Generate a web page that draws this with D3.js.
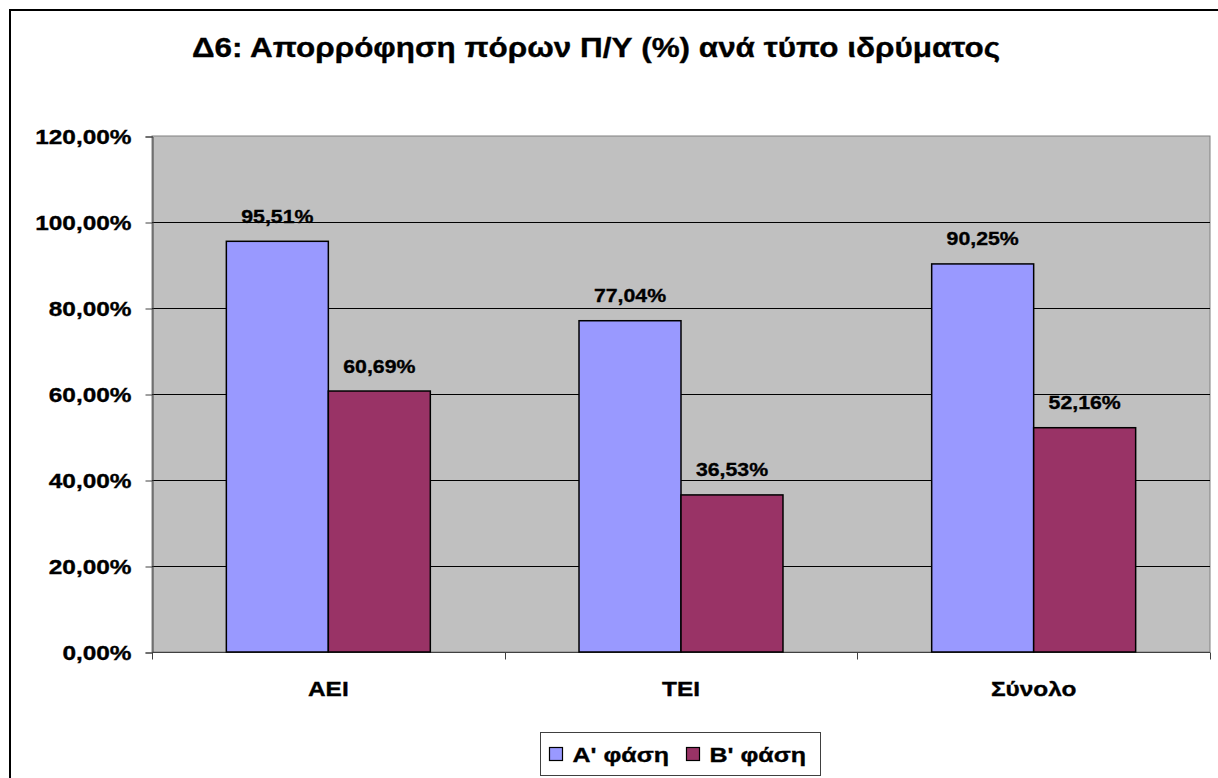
<!DOCTYPE html>
<html>
<head>
<meta charset="utf-8">
<script src="https://cdn.jsdelivr.net/npm/d3@7"></script>
<style>
  body { margin: 0; background: #fff; }
  text { font-family: "Liberation Sans", Arial, sans-serif; font-weight: bold; fill: #000; stroke: #000; stroke-width: 0.35px; }
</style>
</head>
<body>
<div id="chart"></div>
<script>
'use strict'

// data
const categories = ['ΑΕΙ', 'ΤΕΙ', 'Σύνολο']
const seriesNames = ["Α' φάση", "Β' φάση"]
const phaseA = [95.51, 77.04, 90.25]
const phaseB = [60.69, 36.53, 52.16]
const yTicks = [0, 20, 40, 60, 80, 100, 120]
const titleText = 'Δ6: Απορρόφηση πόρων Π/Υ (%) ανά τύπο ιδρύματος'

const colors = ['#9999FF', '#993366']

////////////////////////////////////
//////////// svg setup /////////////
////////////////////////////////////

var svgWidth = 1218
var svgHeight = 778

// plot area box
var plot = { left: 152, right: 1210, top: 136, bottom: 652 }

const svg = d3.select('#chart').append('svg')
    .attr('width', svgWidth)
    .attr('height', svgHeight)

// outer chart border
svg.append('rect')
    .attr('x', 10).attr('y', 10)
    .attr('width', 1230).attr('height', 800)
    .attr('fill', '#fff')
    .attr('stroke', '#000')
    .attr('stroke-width', 2)

// the original text is drawn a bit wider than the font, so stretch it
function stretchedText(g, x, y, str, size, anchor, k) {
    return g.append('text')
        .attr('transform', `translate(${x},${y}) scale(${k},1)`)
        .attr('text-anchor', anchor)
        .style('font-size', size + 'px')
        .text(str)
}

// title
stretchedText(svg, 596, 57, titleText, 27.5, 'middle', 1.144)

////////////////////////////////////
//////////////scales////////////////
////////////////////////////////////

var x0 = d3.scaleBand()
    .domain(categories)
    .range([plot.left, plot.right])
    .padding(0)

var x1 = d3.scaleBand()
    .domain(seriesNames)
    .range([0, x0.bandwidth()])
    .paddingInner(0)
    .paddingOuter(0.729)

var y = d3.scaleLinear()
    .domain([0, 120])
    .range([plot.bottom, plot.top])

var pct = d => d3.format('.2f')(d).replace('.', ',') + '%'

// plot background
svg.append('rect')
    .attr('x', plot.left).attr('y', plot.top)
    .attr('width', plot.right - plot.left)
    .attr('height', plot.bottom - plot.top)
    .attr('fill', '#C0C0C0')
    .attr('stroke', '#808080')
    .attr('stroke-width', 1)

// gridlines
svg.append('g')
    .selectAll('line')
    .data(yTicks.filter(d => d > 0 && d < 120))
    .enter()
    .append('line')
    .attr('x1', plot.left).attr('x2', plot.right)
    .attr('y1', d => y(d) + 0.5).attr('y2', d => y(d) + 0.5)
    .attr('stroke', '#000')
    .attr('stroke-width', 1)

// y-axis
var yAxis = svg.append('g')
    .attr('transform', `translate(${plot.left + 0.5},0.5)`)
    .call(d3.axisLeft(y).tickValues(yTicks).tickSize(7).tickFormat(''))

yAxis.selectAll('path, line').attr('stroke', '#404040')

yAxis.selectAll('.tick').each(function(d) {
    stretchedText(d3.select(this), -21, 7, pct(d), 20.5, 'end', 1.19)
})

// x-axis
var xAxis = svg.append('g')
    .attr('transform', `translate(0,${plot.bottom + 0.5})`)

xAxis.append('line')
    .attr('x1', plot.left).attr('x2', plot.right)
    .attr('stroke', '#404040')

xAxis.selectAll('.xtick')
    .data(categories.concat(['end']))
    .enter()
    .append('line')
    .attr('class', 'xtick')
    .attr('x1', (d, i) => Math.round(plot.left + i * x0.step()) + 0.5)
    .attr('x2', (d, i) => Math.round(plot.left + i * x0.step()) + 0.5)
    .attr('y1', 0).attr('y2', 7)
    .attr('stroke', '#404040')

categories.forEach(c => {
    stretchedText(xAxis, x0(c) + x0.bandwidth() / 2, 43, c, 20.5, 'middle', 1.19)
})

////////////////////////////////////
//////////////bars//////////////////
////////////////////////////////////

var rows = categories.map((c, i) => ({
    category: c,
    values: [
        { series: seriesNames[0], value: phaseA[i], color: colors[0] },
        { series: seriesNames[1], value: phaseB[i], color: colors[1] }
    ]
}))

var groups = svg.selectAll('.group')
    .data(rows)
    .enter()
    .append('g')
    .attr('class', 'group')
    .attr('transform', d => `translate(${x0(d.category)},0)`)

groups.selectAll('rect')
    .data(d => d.values)
    .enter()
    .append('rect')
    .attr('x', d => x1(d.series))
    .attr('y', d => y(d.value))
    .attr('width', x1.bandwidth())
    .attr('height', d => plot.bottom - y(d.value))
    .attr('fill', d => d.color)
    .attr('stroke', '#000')
    .attr('stroke-width', 1.5)

groups.each(function(d) {
    var g = d3.select(this)
    d.values.forEach(v => {
        stretchedText(g, x1(v.series) + x1.bandwidth() / 2, y(v.value) - 18.5,
            pct(v.value), 18.5, 'middle', 1.15)
    })
})

////////////////////////////////////
//////////////legend////////////////
////////////////////////////////////

var legend = svg.append('g')
    .attr('transform', 'translate(540.5,732.5)')

legend.append('rect')
    .attr('width', 280).attr('height', 43)
    .attr('fill', '#fff')
    .attr('stroke', '#404040')

var legendX = [9, 146]
seriesNames.forEach((s, i) => {
    legend.append('rect')
        .attr('x', legendX[i]).attr('y', 15)
        .attr('width', 13).attr('height', 13)
        .attr('fill', colors[i])
        .attr('stroke', '#000')
        .attr('stroke-width', 1.2)
    stretchedText(legend, legendX[i] + 23, 29.5, s, 21, 'start', 1.19)
})
</script>
</body>
</html>
